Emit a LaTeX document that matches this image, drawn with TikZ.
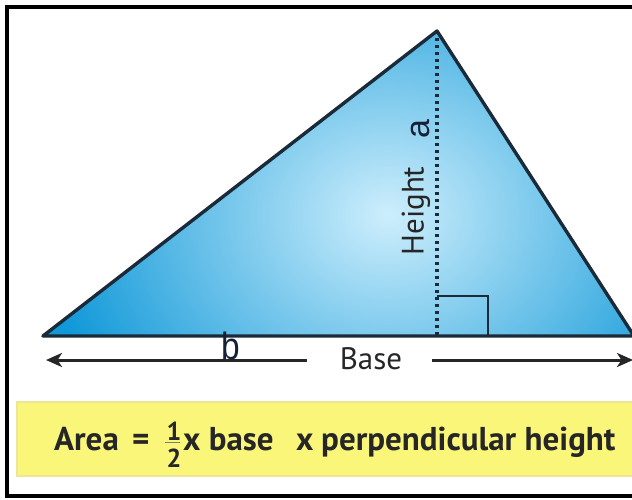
\documentclass[tikz,border=0pt]{standalone}
\usepackage{fontspec}
\setmainfont{PT Sans}
\newfontfamily\helv{Liberation Sans}
\usetikzlibrary{arrows.meta}
\definecolor{triout}{RGB}{16,152,216}
\definecolor{triin}{RGB}{205,238,252}
\definecolor{edgec}{RGB}{26,42,56}
\definecolor{txt}{RGB}{38,38,38}
\definecolor{navy}{RGB}{22,32,55}
\definecolor{boxy}{RGB}{250,246,122}
\definecolor{boxe}{RGB}{236,230,150}
\newcommand\sqz[1]{\scalebox{0.88}[1]{#1}}
\tikzset{
  edge/.style={draw=edgec, line width=3.4pt, line join=round},
  ftext/.style={inner sep=0pt, text=txt, font=\fontsize{33}{36}\selectfont\bfseries},
  lbl/.style={inner sep=0pt, text=txt, font=\fontsize{31}{34}\selectfont},
  letter/.style={inner sep=0pt, text=navy, font=\helv\fontsize{38}{40}\selectfont},
  basearrow/.style={draw=txt, line width=3pt, -{Stealth[length=16pt,width=14pt,inset=4.5pt]}},
}
\begin{document}
\begin{tikzpicture}[x=1pt,y=-1pt]
\useasboundingbox (0,0) rectangle (632,499);
\fill[white] (0,0) rectangle (632,499);
% frame
\draw[black, line width=3.8pt] (640,7) -- (6.8,7) -- (6.8,496) -- (640,496);
% triangle
\coordinate (L) at (43,336);
\coordinate (T) at (437,31);
\coordinate (R) at (634,336);
\coordinate (F) at (437,336);
\coordinate (H) at (437,31);
\begin{scope}
  \clip (L) -- (T) -- (R) -- cycle;
  \fill[triout] (0,0) rectangle (640,340);
  \shade[inner color=triin, outer color=triout] (388,215) ellipse [x radius=350pt, y radius=290pt];
\end{scope}
\draw[edge] (L) -- (T) -- (R) -- cycle;
% height (dotted)
\draw[edgec, line width=3.4pt, dash pattern=on 3.4pt off 3.6pt] (H) -- (F);
% right angle mark
\coordinate (RA1) at (437,296);
\coordinate (RA2) at (488,296);
\coordinate (RA3) at (488,336);
\draw[edgec, line width=2.6pt] (RA1) -- (RA2) -- (RA3);
% labels on triangle
\node[lbl, rotate=90] (height) at (416,211) {Height};
\node[letter, font=\helv\fontsize{34}{36}\selectfont, rotate=90] (a) at (421,129) {a};
% base arrow
\node[lbl, anchor=base] (base) at (371,369) {Base};
\coordinate (BL) at (46,360);
\coordinate (BR) at (633,360);
\draw[basearrow] (base.west |- BL) ++(-33,0) -- (BL);
\draw[basearrow] (base.east |- BR) ++(30,0) -- (BR);
\node[letter, anchor=base] (b) at (231,359) {\sqz{b}};
% formula box
\fill[boxy, draw=boxe, line width=1.2pt] (17,402) rectangle (640,476);
\node[ftext, anchor=base west] (area) at (54,450) {Area};
\node[ftext, anchor=base west] (eq) at (132,450) {=};
\node[ftext, font=\fontsize{26}{28}\selectfont\bfseries, anchor=base] (one) at (174,440) {1};
\node[ftext, font=\fontsize{26}{28}\selectfont\bfseries, anchor=base] (two) at (174,467) {2};
\draw[txt!60, line width=1.2pt] (one.south west) ++(-1,2.5) -- ++(15,0);
\node[ftext, anchor=base west] (xbase) at (183,450) {x base};
\node[ftext, anchor=base west] (x2) at (296,450) {x};
\node[ftext, anchor=base west] (perp) at (321,450) {perpendicular height};
\end{tikzpicture}
\end{document}
